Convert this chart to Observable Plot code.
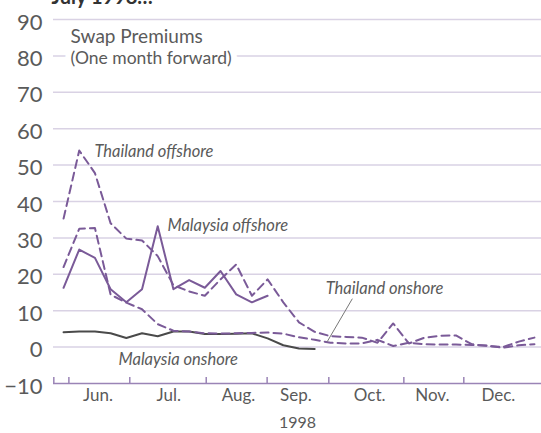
<!DOCTYPE html>
<html><head><meta charset="utf-8">
<script src="https://cdn.jsdelivr.net/npm/d3@7"></script>
<script src="https://cdn.jsdelivr.net/npm/@observablehq/plot@0.6"></script>
<style>html,body{margin:0;padding:0;background:#fff} svg{display:block}</style>
</head><body><div id="chart"></div>
<script>
// Weekly observations, week 0 = end of May 1998
const thailandOffshore = [35.3, 54, 47.8, 34, 29.8, 29.3, 25, 17, 15.3, 14.1, 18.6, 22.7, 14.1, 18.6, 12.3, 6.8, 4.2, 3.0, 2.8, 2.6, 1.2, 6.5, 1.0, 2.6, 3.1, 3.2, 0.8, 0.3, 0.0, 1.5, 2.6];
const thailandOnshore  = [22, 32.5, 32.7, 14.4, 12.2, 10.4, 6.3, 4.5, 4.3, 3.8, 3.7, 3.8, 3.9, 4.0, 3.7, 2.7, 2.0, 1.2, 1.0, 1.0, 2.0, 0.3, 1.2, 0.8, 0.7, 0.7, 0.6, 0.4, -0.2, 0.5, 0.8];
const malaysiaOffshore = [16.3, 26.8, 24.5, 15.9, 12.3, 15.9, 33.2, 15.9, 18.4, 16.3, 20.9, 14.5, 12.3, 14.1];
const malaysiaOnshore  = [4.1, 4.3, 4.3, 3.8, 2.5, 3.8, 3.0, 4.3, 4.3, 3.6, 3.6, 3.7, 3.8, 2.4, 0.5, -0.4, -0.5];

const yTicks = [-10, 0, 10, 20, 30, 40, 50, 60, 70, 80, 90];
const monthLabels = ["Jun.", "Jul.", "Aug.", "Sep.", "Oct.", "Nov.", "Dec."];
const monthLabelWeeks = [2.2, 6.7, 11.15, 14.8, 19.5, 23.5, 27.7];
const monthBoundaryWeeks = [-0.62, 0.34, 4.22, 9.09, 12.97, 16.9, 21.68, 25.5];
const yearLabel = "1998";

const xDomain = [-0.64, 30.45];
const toRows = arr => arr.map((v, i) => ({week: i, value: v}));

const purple = "#7a5a98";
const grid = "#d9d2e4";
const axisColor = "#9a84b6";
const textColor = "#5a5a5a";

const chart = Plot.plot({
  width: 541, height: 433,
  marginLeft: 53, marginRight: 0, marginTop: 19, marginBottom: 50,
  style: {fontFamily: "Lato, sans-serif", background: "#fff", overflow: "hidden"},
  x: {domain: xDomain},
  y: {domain: [-10, 90]},
  marks: [
    Plot.ruleY(yTicks.filter(d => d > -10), {x1: xDomain[0], x2: xDomain[1], stroke: grid, strokeWidth: 1.5}),
    Plot.ruleY([-10], {x1: xDomain[0], x2: xDomain[1], stroke: axisColor, strokeWidth: 1.5}),
    Plot.ruleX(monthBoundaryWeeks, {y1: -10, y2: -10, insetBottom: 6, stroke: axisColor, strokeWidth: 1.5}),
    Plot.axisY({ticks: yTicks, tickSize: 0, tickPadding: 11, fontSize: 22, dy: 3, fill: textColor,
      tickFormat: d => d < 0 ? "\u2212" + Math.abs(d) : String(d), label: null}),
    Plot.axisX({ticks: monthLabelWeeks, tickSize: 0, tickPadding: 5, fontSize: 17, fill: textColor,
      tickFormat: d => monthLabels[monthLabelWeeks.indexOf(d)], label: null}),
    Plot.text([yearLabel], {frameAnchor: "bottom", dy: 44, fontSize: 16, fill: textColor}),
    // title (cropped at top, as in the reference)
    Plot.text(["July 1998\u2026"], {frameAnchor: "top-left", dx: -2, dy: -16, lineAnchor: "bottom", fontSize: 20, fontWeight: "bold", fill: "#333"}),
    // series
    Plot.line(toRows(malaysiaOnshore), {x: "week", y: "value", stroke: "#4a4a4a", strokeWidth: 2}),
    Plot.line(toRows(thailandOnshore), {x: "week", y: "value", stroke: purple, strokeWidth: 2, strokeDasharray: "8,5"}),
    Plot.line(toRows(thailandOffshore), {x: "week", y: "value", stroke: purple, strokeWidth: 2, strokeDasharray: "8,5"}),
    Plot.line(toRows(malaysiaOffshore), {x: "week", y: "value", stroke: purple, strokeWidth: 2}),
    // annotations
    Plot.text(["(One month forward)"], {x: 0.45, y: 79.3, text: d => d, textAnchor: "start", fontSize: 17.5, fill: textColor, stroke: "white", strokeWidth: 12}),
    Plot.text(["Swap Premiums"], {x: 0.45, y: 85.2, text: d => d, textAnchor: "start", fontSize: 19, fill: textColor}),
    Plot.text(["Thailand offshore"], {x: 1.97, y: 53.7, text: d => d, textAnchor: "start", fontSize: 16.5, fontStyle: "italic", fill: textColor}),
    Plot.text(["Malaysia offshore"], {x: 6.62, y: 33.4, text: d => d, textAnchor: "start", fontSize: 16.5, fontStyle: "italic", fill: textColor}),
    Plot.text(["Thailand onshore"], {x: 16.7, y: 16.1, text: d => d, textAnchor: "start", fontSize: 16.5, fontStyle: "italic", fill: textColor}),
    Plot.text(["Malaysia onshore"], {x: 3.5, y: -3.4, text: d => d, textAnchor: "start", fontSize: 16.5, fontStyle: "italic", fill: textColor}),
    Plot.link([{a: 18.4, b: 13.3, c: 16.8, d: 1.5}], {x1: "a", y1: "b", x2: "c", y2: "d", stroke: "#777", strokeWidth: 1})
  ]
});
document.getElementById("chart").appendChild(chart);
</script>
</body></html>
